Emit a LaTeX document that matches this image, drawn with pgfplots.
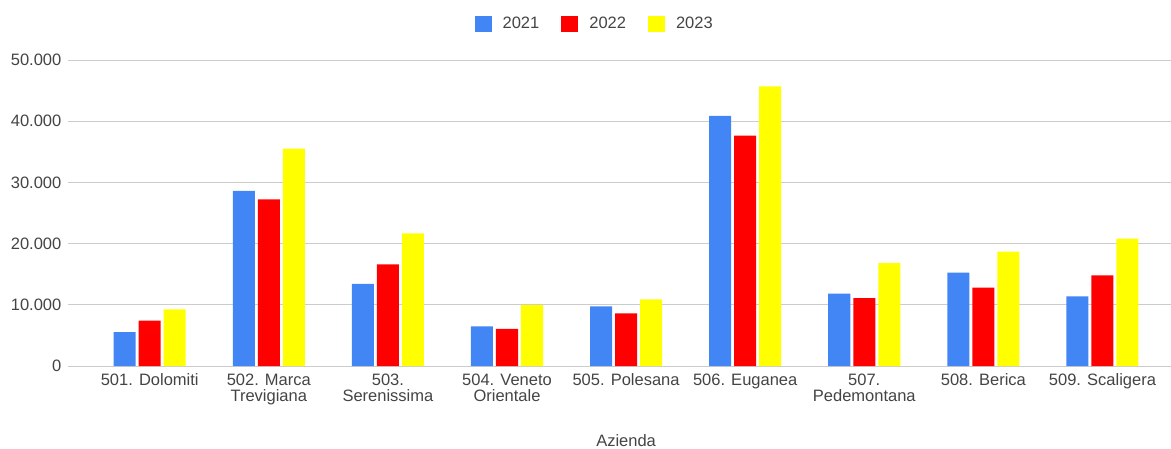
\documentclass[border=0pt]{standalone}
\usepackage{pgfplots}
\pgfplotsset{compat=1.18}
\usepackage{fontspec}
\setmainfont{Liberation Sans}
\definecolor{y21}{HTML}{4285F4}
\definecolor{y22}{HTML}{FF0000}
\definecolor{y23}{HTML}{FFFF00}
\definecolor{txt}{HTML}{444444}
\definecolor{grd}{HTML}{CCCCCC}
\begin{document}
\fontsize{16.5}{16}\selectfont
\begin{tikzpicture}[x=1pt,y=1pt]
\useasboundingbox (0,0) rectangle (1171,448);
\begin{axis}[
    at={(68pt,82pt)}, anchor=south west,
    scale only axis, width=1103pt, height=306pt,
    ybar, bar width=0.185,
    xmin=-0.686, xmax=8.575,
    ymin=0, ymax=50000,
    xtick={0,...,8},
    xticklabels={501. Dolomiti, 502. Marca\\Trevigiana, 503.\\Serenissima, 504. Veneto\\Orientale, 505. Polesana, 506. Euganea, 507.\\Pedemontana, 508. Berica, 509. Scaligera},
    xticklabel style={align=center, text=txt, font=\fontsize{16.5}{16}\selectfont, yshift=-2pt},
    ytick={0,10000,...,50000},
    scaled y ticks=false,
    /pgf/number format/1000 sep={.},
    /pgf/number format/assume math mode=true,
    yticklabel style={text=txt, font=\fontsize{16.5}{16}\selectfont, xshift=-1pt},
    major tick length=0pt,
    ymajorgrids, major grid style={grd, line width=1pt},
    axis line style={draw=none},
    extra y ticks={0}, extra y tick labels={},
    extra y tick style={grid style={black!65, line width=1pt}},
    xlabel={Azienda},
    xlabel style={at={(axis description cs:0.506,-0.262)}, anchor=base, text=txt, font=\fontsize{16.5}{16}\selectfont},
    legend columns=-1,
    legend style={at={(0.478,1.118)}, anchor=center, draw=none, fill=none,
        font=\fontsize{16.5}{16}\selectfont, text=txt,
        nodes={inner xsep=3pt},
        /tikz/every odd column/.append style={column sep=8pt},
        /tikz/every even column/.append style={column sep=19pt}},
    legend image code/.code={\fill[#1] (0pt,-8pt) rectangle (17pt,8pt);},
    every axis plot/.append style={draw=none},
]
\addplot[fill=y21, bar shift=-0.21] coordinates {(0,5555) (1,28600) (2,13400) (3,6480) (4,9750) (5,40850) (6,11820) (7,15250) (8,11380)};
\addplot[fill=y22, bar shift=0] coordinates {(0,7400) (1,27230) (2,16610) (3,6050) (4,8600) (5,37640) (6,11110) (7,12800) (8,14810)};
\addplot[fill=y23, bar shift=0.21] coordinates {(0,9260) (1,35510) (2,21680) (3,9970) (4,10890) (5,45700) (6,16830) (7,18680) (8,20810)};
\legend{2021,2022,2023}
\end{axis}
\end{tikzpicture}
\end{document}
